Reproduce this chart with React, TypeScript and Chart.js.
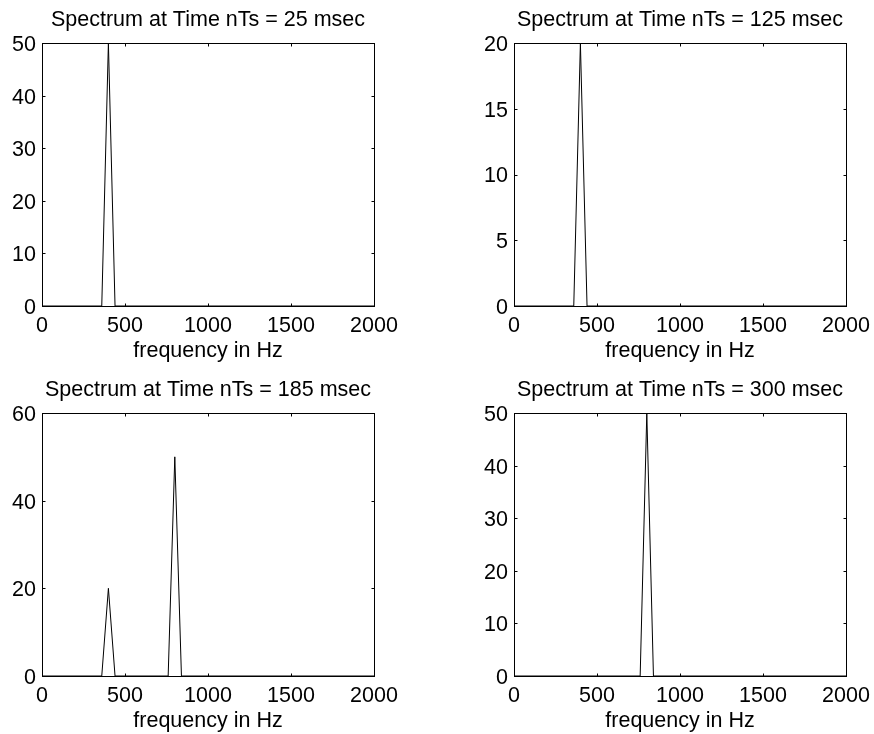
import React, { useEffect, useRef } from "react";
import { Chart, registerables } from "chart.js";

Chart.register(...registerables);

// ---- Data ----
const panelTitles = [
  "Spectrum at Time nTs = 25 msec",
  "Spectrum at Time nTs = 125 msec",
  "Spectrum at Time nTs = 185 msec",
  "Spectrum at Time nTs = 300 msec",
];

const freq25 = [0, 360, 400, 440, 2000];
const mag25 = [0, 0, 50, 0, 0];

const freq125 = [0, 360, 400, 440, 2000];
const mag125 = [0, 0, 20, 0, 0];

const freq185 = [0, 360, 400, 440, 760, 800, 840, 2000];
const mag185 = [0, 0, 20, 0, 0, 50, 0, 0];

const freq300 = [0, 760, 800, 840, 2000];
const mag300 = [0, 0, 50, 0, 0];

const xTickMin = 0;
const xTickMax = 2000;
const xTickStep = 500;

const yMaxes = [50, 20, 60, 50];
const ySteps = [10, 5, 20, 10];

const xAxisLabel = "frequency in Hz";

const FONT_FAMILY = "'Liberation Sans', Arial, Helvetica, sans-serif";
const FONT_SIZE = 21.5;

const boxPlugin = {
  id: "matlabBox",
  afterDraw(chart: any) {
    const { ctx, chartArea: a, scales } = chart;
    const xs = scales.x;
    const ys = scales.y;
    ctx.save();
    ctx.strokeStyle = "#000";
    ctx.lineWidth = 1;
    const L = Math.round(a.left) + 0.5;
    const R = Math.round(a.right) + 0.5;
    const T = Math.round(a.top) + 0.5;
    const B = Math.round(a.bottom) + 0.5;
    ctx.strokeRect(L, T, R - L, B - T);
    const len = 3;
    ctx.beginPath();
    xs.ticks.forEach((t: any) => {
      const px = Math.round(xs.getPixelForValue(t.value)) + 0.5;
      ctx.moveTo(px, B);
      ctx.lineTo(px, B - len);
      ctx.moveTo(px, T);
      ctx.lineTo(px, T + len);
    });
    ys.ticks.forEach((t: any) => {
      const py = Math.round(ys.getPixelForValue(t.value)) + 0.5;
      ctx.moveTo(L, py);
      ctx.lineTo(L + len, py);
      ctx.moveTo(R, py);
      ctx.lineTo(R - len, py);
    });
    ctx.stroke();
    ctx.restore();
  },
};

const W = 416;
const H = 367;

function Panel(props: {
  title: string;
  freq: number[];
  mag: number[];
  yMax: number;
  yStep: number;
  left: number;
  top: number;
}) {
  const ref = useRef<HTMLCanvasElement | null>(null);
  useEffect(() => {
    if (!ref.current) return;
    const font = { family: FONT_FAMILY, size: FONT_SIZE, weight: "normal" as const };
    const chart = new Chart(ref.current, {
      type: "line",
      data: {
        datasets: [
          {
            data: props.freq.map((f, i) => ({ x: f, y: props.mag[i] })),
            borderColor: "#000",
            borderWidth: 1,
            pointRadius: 0,
            fill: false,
            tension: 0,
          },
        ],
      },
      options: {
        responsive: false,
        animation: false,
        events: [],
        layout: { padding: { top: 7, left: 0, right: 0, bottom: 0 } },
        plugins: {
          legend: { display: false },
          tooltip: { enabled: false },
          title: {
            display: true,
            text: props.title,
            color: "#000",
            font,
            padding: { top: 0, bottom: 10.2 },
          },
        },
        scales: {
          x: {
            type: "linear",
            min: xTickMin,
            max: xTickMax,
            ticks: {
              stepSize: xTickStep,
              color: "#000",
              font,
              padding: 7.5,
              autoSkip: false,
              maxRotation: 0,
              callback: (v: any) => String(v),
            },
            grid: { display: false, drawTicks: false },
            border: { display: false },
            title: {
              display: true,
              text: xAxisLabel,
              color: "#000",
              font,
              padding: { top: 0, bottom: 3 },
            },
            afterFit: (s: any) => {
              s.height = 61;
            },
          },
          y: {
            type: "linear",
            min: 0,
            max: props.yMax,
            ticks: {
              stepSize: props.yStep,
              color: "#000",
              font,
              padding: 6,
              labelOffset: 2,
              callback: (v: any) => String(v),
            },
            grid: { display: false, drawTicks: false },
            border: { display: false },
            afterFit: (s: any) => {
              s.width = 42;
            },
          },
          y2: {
            type: "linear",
            position: "right",
            min: 0,
            max: 1,
            ticks: { display: false },
            grid: { display: false, drawTicks: false },
            border: { display: false },
            afterFit: (s: any) => {
              s.width = 42;
            },
          },
        },
      } as any,
      plugins: [boxPlugin],
    });
    return () => chart.destroy();
  }, []);
  return (
    <canvas
      ref={ref}
      width={W}
      height={H}
      style={{ position: "absolute", left: props.left, top: props.top, width: W, height: H }}
    />
  );
}

export default function App() {
  return (
    <div
      style={{
        position: "absolute",
        left: 0,
        top: 0,
        width: 874,
        height: 734,
        overflow: "hidden",
        background: "#fff",
      }}
    >
      <Panel title={panelTitles[0]} freq={freq25} mag={mag25} yMax={yMaxes[0]} yStep={ySteps[0]} left={0} top={0} />
      <Panel title={panelTitles[1]} freq={freq125} mag={mag125} yMax={yMaxes[1]} yStep={ySteps[1]} left={472} top={0} />
      <Panel title={panelTitles[2]} freq={freq185} mag={mag185} yMax={yMaxes[2]} yStep={ySteps[2]} left={0} top={370} />
      <Panel title={panelTitles[3]} freq={freq300} mag={mag300} yMax={yMaxes[3]} yStep={ySteps[3]} left={472} top={370} />
    </div>
  );
}
